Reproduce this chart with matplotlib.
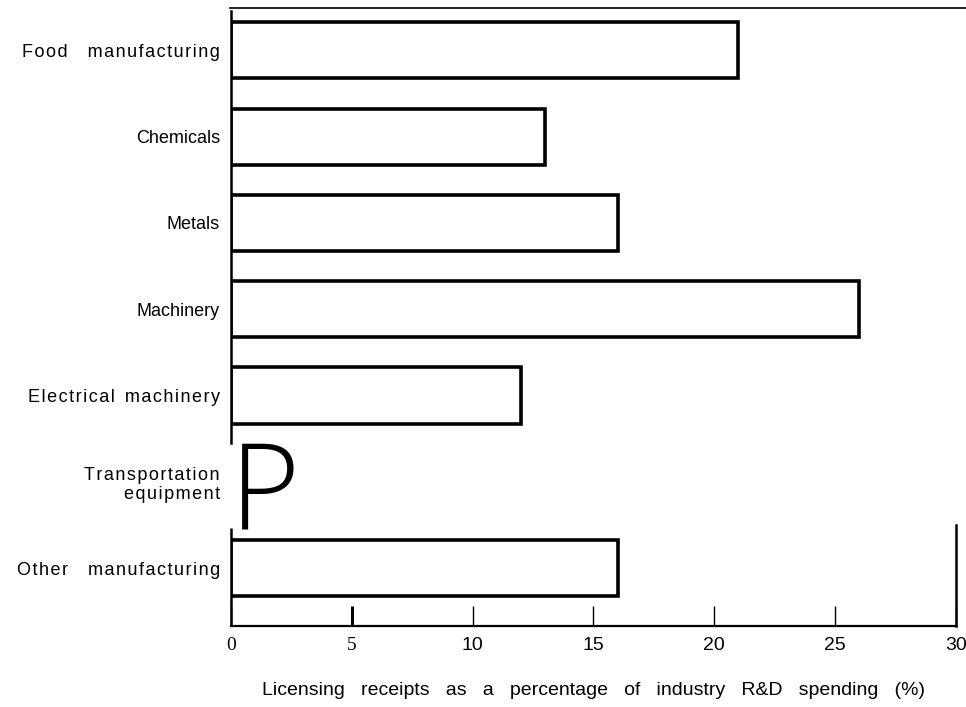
import matplotlib.pyplot as plt
from matplotlib.lines import Line2D

industries = ['Food    manufacturing', 'Chemicals', 'Metals', 'Machinery',
              'Electrical  machinery', 'Transportation\nequipment', 'Other    manufacturing']
receipts = [21, 13, 16, 26, 12, 0, 16]
xticks = [0, 5, 10, 15, 20, 25, 30]
xticklabels = ['0', '5', '10', '15', '20', '25', '30']
# letter spacing of each label in the scan (number of hair spaces)
tracking = [1, 0, 0, 0, 1, 1, 1]

plt.rcParams['font.family'] = ['Liberation Sans', 'DejaVu Sans']

HAIR = '\u200a'


def spaced(s, n):
    # the scanned labels are letter-spaced; mimic with hair spaces
    if n == 0:
        return s
    lines = []
    for line in s.split('\n'):
        words = [(HAIR * n).join(w) if w else w for w in line.split(' ')]
        lines.append(' '.join(words))
    return '\n'.join(lines)


labels = [spaced(s, n) for s, n in zip(industries, tracking)]

fig = plt.figure(figsize=(9.66, 7.07), dpi=100)
ax = fig.add_axes([0.239, 0.1146, 0.7507, 0.8741])

pos = list(range(len(industries)))
for p, v in zip(pos, receipts):
    if v > 0:
        ax.barh(p, v, height=0.65, color='white', edgecolor='black', linewidth=2.6)

# transportation equipment has no bar, only the "P" mark
ax.text(-0.05, 5.54, 'P', fontsize=86, va='baseline', ha='left', color='black',
        fontfamily='Open Sans', fontweight=300)

ax.set_xlim(0, 30)
ax.set_ylim(6.67, -0.49)
ax.set_yticks(pos)
ax.set_yticklabels(labels, fontsize=13, ha='right')
ax.tick_params(axis='y', length=0, pad=8)

ax.set_xticks(xticks)
ax.set_xticklabels(xticklabels, fontsize=14)
for lab in ax.get_xticklabels()[:2]:
    lab.set_fontfamily('Liberation Serif')
ax.tick_params(axis='x', direction='in', length=14.5, width=1.0, pad=8)
ax.xaxis.get_major_ticks()[1].tick1line.set_markeredgewidth(2.2)

ax.set_xlabel('Licensing   receipts   as   a   percentage   of   industry   R&D   spending   (%)',
              fontsize=14, labelpad=20)

ax.spines['bottom'].set_linewidth(1.6)
ax.spines['left'].set_linewidth(1.8)
ax.spines['left'].set_bounds(-0.45, 4.55)
ax.vlines(0, 5.54, 6.67, color='black', linewidth=1.8, clip_on=False)
ax.spines['right'].set_bounds(5.5, 6.67)
ax.spines['right'].set_linewidth(1.8)
ax.spines['top'].set_visible(False)
fig.add_artist(Line2D([0.238, 1.0], [0.9887, 0.9887], color='black', linewidth=1.2))

fig.savefig('out.png', dpi=100)
